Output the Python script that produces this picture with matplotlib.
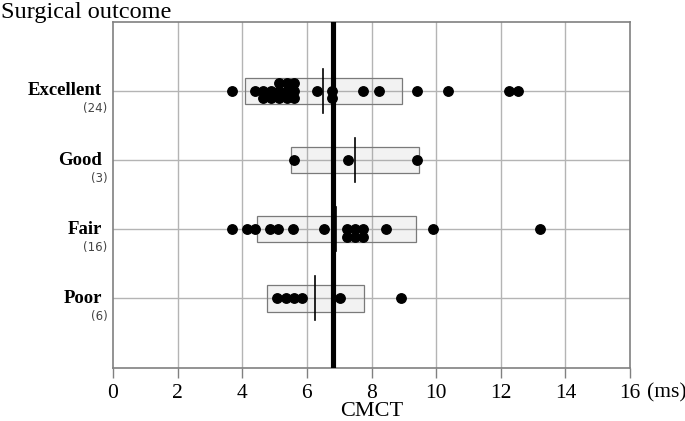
import numpy as np
import matplotlib.pyplot as plt
from matplotlib.patches import Rectangle
from matplotlib.transforms import blended_transform_factory

# Data (CMCT in ms)
categories = ['Excellent', 'Good', 'Fair', 'Poor']
counts = ['(24)', '(3)', '(16)', '(6)']
excellent = [3.67, 4.40, 4.65, 4.65, 4.89, 4.89, 5.15, 5.15, 5.15, 5.38, 5.38, 5.38,
             5.60, 5.60, 5.60, 6.30, 6.79, 6.79, 7.73, 8.23, 9.42, 10.36, 12.27, 12.53]
good = [5.59, 7.26, 9.42]
fair = [3.67, 4.14, 4.38, 4.86, 5.10, 5.58, 6.54, 7.25, 7.25, 7.49, 7.49, 7.73, 7.73,
        8.45, 9.90, 13.22]
poor = [5.09, 5.36, 5.61, 5.84, 7.03, 8.92]
means = [6.51, 7.49, 6.91, 6.26]
sds = [2.42, 1.98, 2.46, 1.51]
cutoff = 6.8
xticks = [0, 2, 4, 6, 8, 10, 12, 14, 16]

groups = [excellent, good, fair, poor]
rows = [4, 3, 2, 1]

serif = 'Liberation Serif'
fig = plt.figure(figsize=(6.85, 4.21), dpi=100)
ax = fig.add_axes([0.165, 0.127, 0.7547, 0.8215])
ax.set_xlim(0, 16)
ax.set_ylim(0, 5)

# grid
for x in xticks[1:-1]:
    ax.axvline(x, color='#b4b4b4', lw=1.0, zorder=1)
for r in rows:
    ax.axhline(r, color='#b4b4b4', lw=1.0, zorder=1)

step = 0.11
for vals, r, m, s in zip(groups, rows, means, sds):
    # mean +/- SD box
    ax.add_patch(Rectangle((m - s, r - 0.19), 2 * s, 0.38, facecolor=(0.6, 0.6, 0.6, 0.12),
                           edgecolor='#7a7a7a', lw=0.9, zorder=2))
    ax.plot([m, m], [r - 0.32, r + 0.32], color='black', lw=1.2, zorder=3)
    # stacked dot plot
    seen = {}
    ys = []
    for v in vals:
        k = seen.get(v, 0)
        seen[v] = k + 1
        ys.append(r + [0, -step, step][k % 3])
    ax.plot(vals, ys, 'o', color='black', ms=6.8, zorder=4, ls='none')

ax.axvline(cutoff, color='black', lw=3.7, zorder=5)

for sp in ax.spines.values():
    sp.set_color('#808080')
    sp.set_linewidth(1.2)

ax.set_yticks([])
ax.set_xticks(xticks)
ax.set_xticklabels([str(t) for t in xticks], fontfamily=serif, fontsize=15.5)
ax.tick_params(axis='x', direction='out', length=7, width=1, color='#808080', pad=5)

ax.set_xlabel('CMCT', fontfamily=serif, fontsize=16, labelpad=-1)
ax.text(16.52, -0.37, '(ms)', fontfamily=serif, fontsize=15.5, ha='left', va='center',
        clip_on=False)

trans = blended_transform_factory(ax.transAxes, ax.transData)
for c, n, r in zip(categories, counts, rows):
    ax.text(-0.021, r, c, transform=trans, ha='right', va='center', fontfamily=serif,
            fontweight='bold', fontsize=13.5)
    ax.text(-0.011, r - 0.26, n, transform=trans, ha='right', va='center',
            fontsize=8.5, color='#444444')

fig.text(0.001, 0.958, 'Surgical outcome', fontfamily=serif, fontsize=17.5,
         ha='left', va='baseline')

fig.savefig('out.png', dpi=100)
